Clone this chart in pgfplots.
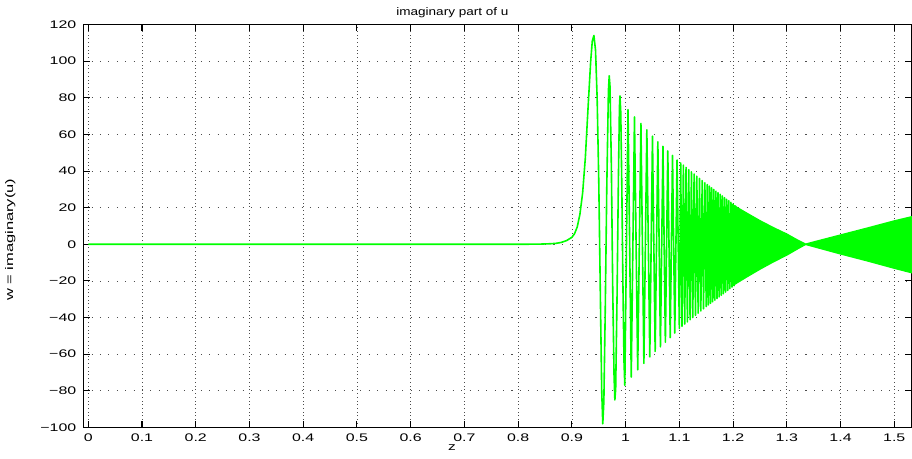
\documentclass[border=0pt]{standalone}
\usepackage{fontspec}
\setmainfont{Liberation Sans}
\usepackage{pgfplots}
\pgfplotsset{compat=1.18}
\definecolor{mgreen}{rgb}{0,1,0}

\begin{document}
\begin{tikzpicture}
\begin{axis}[
    name=ax,
    scale only axis,
    width=621.75pt, height=302.25pt,
    xmin=-0.0095, xmax=1.533,
    ymin=-100, ymax=120,
    xtick={0,0.1,0.2,0.3,0.4,0.5,0.6,0.7,0.8,0.9,1.0,1.1,1.2,1.3,1.4,1.5},
    xticklabels={0,0.1,0.2,0.3,0.4,0.5,0.6,0.7,0.8,0.9,1,1.1,1.2,1.3,1.4,1.5},
    ytick={-100,-80,-60,-40,-20,0,20,40,60,80,100,120},
    yticklabels={−100,−80,−60,−40,−20,0,20,40,60,80,100,120},
    grid=major,
    x grid style={black!70, line width=0.5pt, dash pattern=on 0.6pt off 2.2pt},
    y grid style={black!70, line width=0.5pt, dash pattern=on 0.8pt off 5.5pt},
    tick align=inside,
    major tick length=5pt,
    axis line style={line width=0.9pt},
    every tick/.style={black, line width=0.8pt},
    tick label style={font=\fontsize{8.25}{9}\selectfont},
    xticklabel style={inner sep=0pt, anchor=north, yshift=-4.5pt, xscale=1.45},
    yticklabel style={inner sep=0pt, anchor=east, xshift=-4.9pt, xscale=1.45},
    title={imaginary part of u},
    every axis title/.style={at={(axis description cs:0.4455,1)}, anchor=base,
        yshift=7.1pt, font=\fontsize{8.25}{9}\selectfont, xscale=1.23},
    xlabel={z},
    every axis x label/.style={at={(axis description cs:0.4449,0)}, anchor=base,
        yshift=-17.5pt, font=\fontsize{8.25}{9}\selectfont, xscale=1.4},
    ylabel={w = imaginary(u)},
    every axis y label/.style={at={([xshift=-52.5pt]axis description cs:0,0.4658)},
        anchor=base, rotate=90, xscale=1.5, font=\fontsize{8.25}{9}\selectfont},
]
% dense part of the oscillation, drawn as the band it fills
\addplot[fill=mgreen, draw=mgreen, line width=1.2pt, line join=round] coordinates {
    (1.196,22) (1.225,17) (1.25,12.8) (1.275,9) (1.3,5.5) (1.32,2.2) (1.335,0)
    (1.35,1.2) (1.4,5) (1.45,8.8) (1.5,12.7) (1.533,15)
    (1.533,-15.5) (1.5,-13) (1.45,-9) (1.4,-5.2) (1.35,-1.2) (1.335,0) (1.32,-2.4)
    (1.3,-5.8) (1.275,-9.5) (1.25,-13.5) (1.225,-17.8) (1.196,-23)
};
% imaginary part of u
\addplot[mgreen, line width=1.2pt, line join=round] coordinates {
    (0,0) (0.80,0) (0.84,0.1) (0.86,0.3) (0.87,0.5) (0.88,1) (0.89,2) (0.90,3.8)
    (0.905,5.8) (0.91,9.5) (0.915,16.5) (0.92,28) (0.925,47) (0.93,74) (0.935,100)
    (0.938,111) (0.941,114) (0.944,106) (0.947,80) (0.950,35) (0.953,-28)
    (0.9555,-80) (0.9575,-98) (0.9595,-86) (0.962,-38) (0.965,32) (0.968,84)
    (0.9695,92) (0.971,86) (0.9735,42) (0.976,-24) (0.9785,-72) (0.980,-85)
    (0.9815,-79) (0.984,-30) (0.9865,34) (0.9885,75) (0.9895,81) (0.991,72)
    (0.993,30) (0.995,-22) (0.997,-64) (0.9985,-77)
    (1.0045,73.5) (1.0105,-72.5) (1.0165,69.5) (1.0225,-68.5) (1.0285,66)
    (1.0340,-65) (1.0395,62.5) (1.0450,-61.5) (1.0500,59) (1.0550,-58.5)
    (1.0600,56) (1.0648,-56) (1.0695,53.5) (1.0740,-53.5) (1.0785,51)
    (1.0830,-51) (1.0873,48.5) (1.0915,-48.5) (1.0957,46) (1.1000,-46)
    (1.1025,44.4) (1.1050,-44.8) (1.1075,43.2) (1.1100,-43.6) (1.1125,42.0)
    (1.1150,-42.4) (1.1175,40.8) (1.1200,-41.2) (1.1225,39.6) (1.1250,-40.0)
    (1.1275,38.4) (1.1300,-38.8) (1.1325,37.2) (1.1350,-37.6) (1.1375,36.0)
    (1.1400,-36.4) (1.1425,34.8) (1.1450,-35.2) (1.1475,33.6) (1.1500,-34.0)
    (1.1520,32.6) (1.1540,-33.1) (1.1560,31.7) (1.1580,-32.2) (1.1600,30.8)
    (1.1620,-31.4) (1.1640,29.9) (1.1660,-30.5) (1.1680,29.0) (1.1700,-29.6)
    (1.1720,28.2) (1.1740,-28.7) (1.1760,27.3) (1.1780,-27.8) (1.1800,26.4)
    (1.1820,-27.0) (1.1840,25.5) (1.1860,-26.1) (1.1880,24.6) (1.1900,-25.2)
    (1.1920,23.8) (1.1940,-24.3) (1.1960,22.9) (1.1980,-23.4) (1.2000,22.0)
    (1.2020,-22.6) (1.2040,21.3)
};
\end{axis}
\pgfresetboundingbox
\path ([xshift=-62.4pt,yshift=-23.5pt]ax.south west) rectangle ([yshift=18.4pt]ax.north east);
\end{tikzpicture}
\end{document}
